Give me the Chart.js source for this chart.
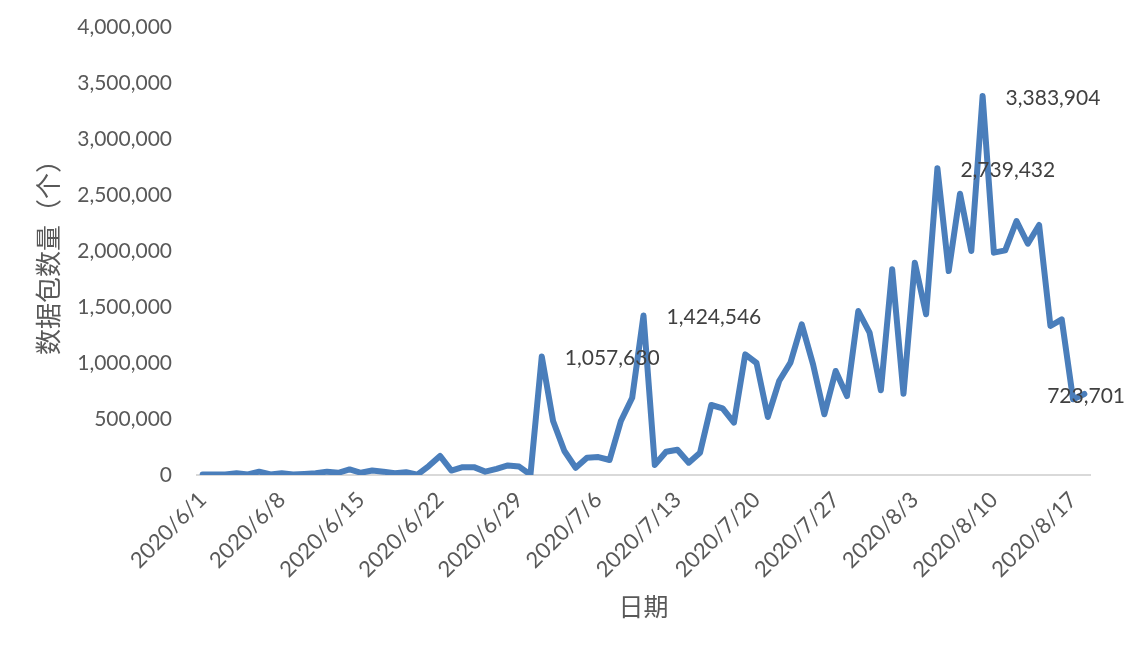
<!DOCTYPE html>
<html>
<head>
<meta charset="utf-8">
<script src="https://cdn.jsdelivr.net/npm/chart.js@4"></script>
<style>
  body { margin: 0; background: #fff; }
  #wrap { width: 1129px; height: 657px; }
</style>
</head>
<body>
<div id="wrap"><canvas id="Chart" width="1129" height="657"></canvas></div>
<script>
const dates = [
  "2020/6/1", "2020/6/2", "2020/6/3", "2020/6/4", "2020/6/5", "2020/6/6", "2020/6/7",
  "2020/6/8", "2020/6/9", "2020/6/10", "2020/6/11", "2020/6/12", "2020/6/13", "2020/6/14",
  "2020/6/15", "2020/6/16", "2020/6/17", "2020/6/18", "2020/6/19", "2020/6/20", "2020/6/21",
  "2020/6/22", "2020/6/23", "2020/6/24", "2020/6/25", "2020/6/26", "2020/6/27", "2020/6/28",
  "2020/6/29", "2020/6/30", "2020/7/1", "2020/7/2", "2020/7/3", "2020/7/4", "2020/7/5",
  "2020/7/6", "2020/7/7", "2020/7/8", "2020/7/9", "2020/7/10", "2020/7/11", "2020/7/12",
  "2020/7/13", "2020/7/14", "2020/7/15", "2020/7/16", "2020/7/17", "2020/7/18", "2020/7/19",
  "2020/7/20", "2020/7/21", "2020/7/22", "2020/7/23", "2020/7/24", "2020/7/25", "2020/7/26",
  "2020/7/27", "2020/7/28", "2020/7/29", "2020/7/30", "2020/7/31", "2020/8/1", "2020/8/2",
  "2020/8/3", "2020/8/4", "2020/8/5", "2020/8/6", "2020/8/7", "2020/8/8", "2020/8/9",
  "2020/8/10", "2020/8/11", "2020/8/12", "2020/8/13", "2020/8/14", "2020/8/15", "2020/8/16",
  "2020/8/17", "2020/8/18"
];

const packets = [
  5000, 5000, 5000, 15000, 5000, 30000, 5000,
  15000, 5000, 10000, 15000, 30000, 20000, 50000,
  20000, 40000, 30000, 15000, 25000, 3000, 80000,
  170000, 40000, 70000, 70000, 30000, 55000, 85000,
  75000, 3000, 1057630, 482000, 214000, 65000, 155000,
  160000, 134000, 482000, 690000, 1424546, 90000, 208000,
  226000, 110000, 199000, 625000, 595000, 467000, 1077000,
  1000000, 518000, 839000, 1003000, 1345000, 988000, 542000,
  929000, 705000, 1464000, 1271000, 756000, 1837000, 726000,
  1896000, 1435000, 2739432, 1821000, 2512000, 2000000, 3383904,
  1985000, 2006000, 2268000, 2065000, 2232000, 1330000, 1390000,
  676000, 723701
];

// points that carry a value label
const labelIdx = [30, 39, 65, 69, 78];

const yMax = 4000000;
const yStep = 500000;
const tickEvery = 7;

const fontFamily = "Lato, 'Noto Sans CJK SC', sans-serif";
const textGray = "#595959";

const valueLabels = {
  id: "valueLabels",
  afterDatasetsDraw(chart) {
    const c = chart.ctx;
    const meta = chart.getDatasetMeta(0);
    c.save();
    c.font = "21px " + fontFamily;
    c.fillStyle = "#404040";
    c.textAlign = "left";
    c.textBaseline = "middle";
    labelIdx.forEach(i => {
      const p = meta.data[i];
      const txt = packets[i].toLocaleString("en-US");
      const w = c.measureText(txt).width;
      let x = p.x + 23;
      if (x + w > chart.width - 4) x = chart.width - 4 - w;
      c.fillText(txt, x, p.y + 2);
    });
    c.restore();
  }
};

const ctx = document.getElementById("Chart");
new Chart(ctx, {
  type: "line",
  data: {
    labels: dates,
    datasets: [{
      label: "数据包数量",
      data: packets,
      borderColor: "#4A7EBB",
      borderWidth: 6,
      pointRadius: 0,
      tension: 0,
      borderJoinStyle: "round",
      borderCapStyle: "round",
      fill: false
    }]
  },
  options: {
    responsive: false,
    animation: false,
    layout: { padding: { top: 27, right: 39, left: 0, bottom: 0 } },
    plugins: {
      legend: { display: false },
      tooltip: { enabled: false }
    },
    scales: {
      x: {
        offset: true,
        grid: { display: false, drawTicks: false },
        border: { display: true, color: "#d9d9d9", width: 2 },
        ticks: {
          autoSkip: false,
          maxRotation: 45,
          minRotation: 45,
          padding: 12,
          color: textGray,
          font: { family: fontFamily, size: 22 },
          callback: (v, i) => (i % tickEvery === 0 ? dates[i] : null)
        },
        title: {
          display: true,
          text: "日期",
          color: textGray,
          font: { family: fontFamily, size: 25 },
          padding: { top: 0, bottom: 34 }
        },
        afterFit: s => { s.height = 182; }
      },
      y: {
        min: 0,
        max: yMax,
        grid: { display: false, drawTicks: false },
        border: { display: false },
        ticks: {
          stepSize: yStep,
          padding: 25,
          color: textGray,
          font: { family: fontFamily, size: 21 },
          callback: v => v.toLocaleString("en-US")
        },
        title: {
          display: true,
          text: "数据包数量（个）",
          color: textGray,
          font: { family: fontFamily, size: 26 },
          padding: { top: 34, bottom: 0 }
        },
        afterFit: s => { s.width = 197; s.paddingTop = 0; s.paddingBottom = 0; }
      }
    }
  },
  plugins: [valueLabels]
});
</script>
</body>
</html>
